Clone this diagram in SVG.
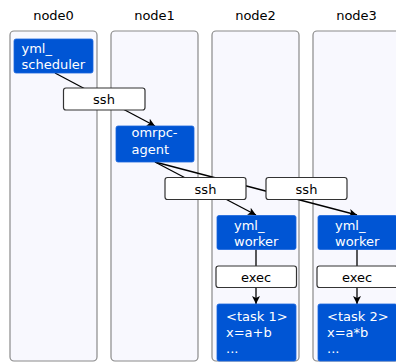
<svg xmlns="http://www.w3.org/2000/svg" width="396" height="363" viewBox="0 0 396 363">
  <style>
    text { font-family: "DejaVu Sans", "Liberation Sans", sans-serif; font-size: 13px; }
    .title { fill: #000; text-anchor: middle; }
    .lane { fill: #f8f8fe; stroke: #8a8a8a; stroke-width: 1.2; }
    .proc { fill: #0055d4; stroke: #1a66dd; stroke-width: 0.8; }
    .proc-text { fill: #fff; }
    .via { fill: #fff; stroke: #333; stroke-width: 1.2; }
    .via-text { fill: #000; text-anchor: middle; }
    .link { stroke: #000; stroke-width: 1.3; fill: none; }
  </style>
  <defs>
    <marker id="arrow" viewBox="0 0 10 10" refX="10" refY="5" markerWidth="8" markerHeight="8" markerUnits="userSpaceOnUse" orient="auto">
      <path d="M0,0 L10,5 L0,10 L2.5,5 Z" fill="#000"/>
    </marker>
  </defs>

  <!-- host lanes -->
  <g id="node0">
    <text class="title" x="53.5" y="20">node0</text>
    <rect class="lane" x="10" y="31" width="87" height="330" rx="4"/>
  </g>
  <g id="node1">
    <text class="title" x="154.5" y="20">node1</text>
    <rect class="lane" x="111" y="31" width="87" height="330" rx="4"/>
  </g>
  <g id="node2">
    <text class="title" x="255.5" y="20">node2</text>
    <rect class="lane" x="212" y="31" width="87" height="330" rx="4"/>
  </g>
  <g id="node3">
    <text class="title" x="356.5" y="20">node3</text>
    <rect class="lane" x="313" y="31" width="87" height="330" rx="4"/>
  </g>

  <!-- connectors (drawn under the ssh / exec boxes) -->
  <g id="connectors">
    <line class="link" x1="55" y1="73" x2="155" y2="126" marker-end="url(#arrow)"/>
    <line class="link" x1="155" y1="162" x2="256" y2="215" marker-end="url(#arrow)"/>
    <line class="link" x1="155" y1="162" x2="357" y2="215" marker-end="url(#arrow)"/>
    <line class="link" x1="256" y1="249" x2="256" y2="304" marker-end="url(#arrow)"/>
    <line class="link" x1="357" y1="249" x2="357" y2="304" marker-end="url(#arrow)"/>
  </g>

  <!-- processes -->
  <g id="yml_scheduler">
    <rect class="proc" x="14" y="39" width="79" height="34" rx="2"/>
    <text class="proc-text" x="21.5" y="53">yml_</text>
    <text class="proc-text" x="21.5" y="68.5">scheduler</text>
  </g>
  <g id="ssh0">
    <rect class="via" x="63.5" y="88" width="81.5" height="22" rx="2.5"/>
    <text class="via-text" x="104" y="104">ssh</text>
  </g>
  <g id="omrpc_agent">
    <rect class="proc" x="116" y="126" width="78" height="36" rx="2"/>
    <text class="proc-text" x="131.5" y="137">omrpc-</text>
    <text class="proc-text" x="131.5" y="153.5">agent</text>
  </g>
  <g id="ssh1">
    <rect class="via" x="165" y="177.5" width="81" height="22" rx="2.5"/>
    <text class="via-text" x="205.5" y="193.5">ssh</text>
  </g>
  <g id="ssh2">
    <rect class="via" x="266" y="177.5" width="81" height="22" rx="2.5"/>
    <text class="via-text" x="306.5" y="193.5">ssh</text>
  </g>

  <g id="yml_worker1">
    <rect class="proc" x="217" y="215.5" width="79" height="34" rx="2"/>
    <text class="proc-text" x="234" y="229.5">yml_</text>
    <text class="proc-text" x="234" y="245.5">worker</text>
  </g>
  <g id="exec1">
    <rect class="via" x="216" y="266" width="80.5" height="21.5" rx="2.5"/>
    <text class="via-text" x="256" y="281.5">exec</text>
  </g>
  <g id="task1">
    <rect class="proc" x="217" y="304" width="79" height="57" rx="2"/>
    <text class="proc-text" x="226" y="321">&lt;task 1&gt;</text>
    <text class="proc-text" x="226" y="337">x=a+b</text>
    <text class="proc-text" x="226" y="353">...</text>
  </g>

  <g id="yml_worker2">
    <rect class="proc" x="318" y="215.5" width="79" height="34" rx="2"/>
    <text class="proc-text" x="335" y="229.5">yml_</text>
    <text class="proc-text" x="335" y="245.5">worker</text>
  </g>
  <g id="exec2">
    <rect class="via" x="317" y="266" width="80.5" height="21.5" rx="2.5"/>
    <text class="via-text" x="357" y="281.5">exec</text>
  </g>
  <g id="task2">
    <rect class="proc" x="318" y="304" width="79" height="57" rx="2"/>
    <text class="proc-text" x="327" y="321">&lt;task 2&gt;</text>
    <text class="proc-text" x="327" y="337">x=a*b</text>
    <text class="proc-text" x="327" y="353">...</text>
  </g>
</svg>
